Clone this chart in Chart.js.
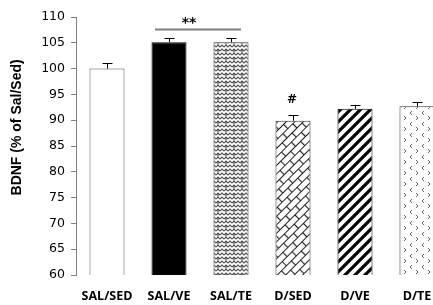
<!DOCTYPE html>
<html>
<head>
<meta charset="utf-8">
<script src="https://cdn.jsdelivr.net/npm/chart.js@4/dist/chart.umd.min.js"></script>
<style>
  body { margin: 0; background: #fff; overflow: hidden; }
  #wrap { width: 433px; height: 305px; overflow: hidden; }
</style>
</head>
<body>
<div id="wrap"><canvas id="grafico" width="460" height="305"></canvas></div>
<script>
const grupos = ["SAL/SED", "SAL/VE", "SAL/TE", "D/SED", "D/VE", "D/TE"];
const bdnf = [100, 105.1, 105.1, 89.9, 92.2, 92.7];
const erro = [1.0, 0.9, 0.8, 1.1, 0.8, 0.8];
const ticksY = [60, 65, 70, 75, 80, 85, 90, 95, 100, 105, 110];

// Padr√µes de preenchimento
function criarPadrao(w, h, desenhar) {
  const c = document.createElement("canvas");
  c.width = w; c.height = h;
  const g = c.getContext("2d");
  g.fillStyle = "#fff";
  g.fillRect(0, 0, w, h);
  desenhar(g, w, h);
  return g.createPattern(c, "repeat");
}

const listras = criarPadrao(10, 10, (g, w, h) => {
  g.strokeStyle = "#000";
  g.lineWidth = 3.2;
  g.beginPath();
  g.moveTo(-5, 5); g.lineTo(5, -5);
  g.moveTo(0, 10); g.lineTo(10, 0);
  g.moveTo(5, 15); g.lineTo(15, 5);
  g.stroke();
});

const tijolos = criarPadrao(14, 12, (g) => {
  g.strokeStyle = "#222";
  g.lineWidth = 1.2;
  g.beginPath();
  g.moveTo(0, 0.5); g.lineTo(14, 0.5);
  g.moveTo(0, 6.5); g.lineTo(14, 6.5);
  g.moveTo(0.5, 0); g.lineTo(0.5, 6);
  g.moveTo(7.5, 6); g.lineTo(7.5, 12);
  g.stroke();
});
tijolos.setTransform(new DOMMatrix().rotate(-45));

const trama = criarPadrao(8, 8, (g) => {
  g.strokeStyle = "#555";
  g.lineWidth = 1.2;
  g.beginPath();
  g.moveTo(0, 3); g.lineTo(2, 1); g.lineTo(4, 3); g.lineTo(6, 1); g.lineTo(8, 3);
  g.moveTo(0, 7); g.lineTo(2, 5); g.lineTo(4, 7); g.lineTo(6, 5); g.lineTo(8, 7);
  g.moveTo(2, 1); g.lineTo(2, 5);
  g.stroke();
  g.fillStyle = "#999";
  g.fillRect(6, 6, 1, 1);
});

const setas = criarPadrao(12, 11, (g) => {
  g.strokeStyle = "#666";
  g.lineWidth = 1;
  g.beginPath();
  g.moveTo(4, 1); g.lineTo(2, 3); g.lineTo(4, 5);
  g.moveTo(8, 6); g.lineTo(10, 8); g.lineTo(8, 10);
  g.stroke();
});

const preenchimentos = ["#fff", "#000", trama, tijolos, listras, setas];
const bordas = ["#555", "#000", "#333", "#333", "#000", "#333"];

// Barras de erro e anota√ß√µes
const extras = {
  id: "extras",
  afterDatasetsDraw(chart) {
    const ctx = chart.ctx;
    const y = chart.scales.y;
    const meta = chart.getDatasetMeta(0);
    ctx.save();
    ctx.strokeStyle = "#000";
    ctx.lineWidth = 1;
    meta.data.forEach((bar, i) => {
      const topo = Math.round(y.getPixelForValue(bdnf[i] + erro[i])) + 0.5;
      const x = Math.round(bar.x) + 0.5;
      ctx.beginPath();
      ctx.moveTo(x, bar.y);
      ctx.lineTo(x, topo);
      ctx.moveTo(x - 5, topo);
      ctx.lineTo(x + 5, topo);
      ctx.stroke();
    });

    // linha de signific√¢ncia
    const b1 = meta.data[1], b2 = meta.data[2];
    const yLinha = y.getPixelForValue(107.6);
    ctx.strokeStyle = "#7f7f7f";
    ctx.lineWidth = 2;
    ctx.beginPath();
    ctx.moveTo(b1.x - 14, yLinha);
    ctx.lineTo(b2.x + 10, yLinha);
    ctx.stroke();

    ctx.fillStyle = "#000";
    ctx.font = "bold 14px 'DejaVu Sans'";
    ctx.textAlign = "center";
    ctx.textBaseline = "middle";
    ctx.fillText("**", b1.x + 20, y.getPixelForValue(108.8));
    ctx.font = "bold 12px 'DejaVu Sans'";
    ctx.fillText("#", meta.data[3].x - 1, y.getPixelForValue(94));

    // t√≠tulo do eixo
    ctx.font = "bold 14px 'Liberation Sans'";
    ctx.translate(17, y.getPixelForValue(88.6));
    ctx.rotate(-Math.PI / 2);
    ctx.fillText("BDNF (% of Sal/Sed)", 0, 0);
    ctx.restore();
  }
};

new Chart(document.getElementById("grafico"), {
  type: "bar",
  data: {
    labels: grupos,
    datasets: [{
      data: bdnf,
      backgroundColor: preenchimentos,
      borderColor: bordas,
      borderWidth: 1,
      borderSkipped: "bottom",
      categoryPercentage: 1,
      barPercentage: 0.565
    }]
  },
  options: {
    responsive: false,
    animation: false,
    devicePixelRatio: 1,
    layout: { padding: { top: 17, right: 12, left: 0, bottom: 0 } },
    plugins: { legend: { display: false }, tooltip: { enabled: false } },
    scales: {
      x: {
        grid: { display: false, drawTicks: false },
        border: { display: false },
        ticks: {
          padding: 14,
          color: "#000",
          font: { family: "'Open Sans'", size: 12.5, weight: "bold" }
        },
        afterFit(s) { s.height = 30; }
      },
      y: {
        min: 60,
        max: 110,
        afterBuildTicks(s) { s.ticks = ticksY.map(v => ({ value: v })); },
        grid: { drawOnChartArea: false, drawTicks: true, tickLength: 5, color: "#808080" },
        border: { display: true, color: "#808080" },
        ticks: {
          padding: 6,
          color: "#000",
          font: { family: "'DejaVu Sans'", size: 12.5 }
        },
        afterFit(s) { s.width = 76; }
      }
    }
  },
  plugins: [extras]
});
</script>
</body>
</html>
